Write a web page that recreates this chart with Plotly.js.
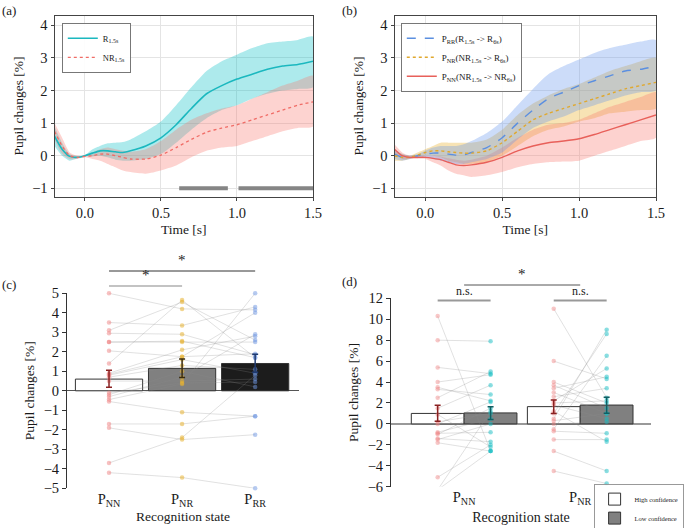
<!DOCTYPE html>
<html><head><meta charset="utf-8">
<script src="https://cdn.plot.ly/plotly-3.0.1.min.js"></script>
<style>html,body{margin:0;padding:0;background:#fff}#chart{width:685px;height:528px}</style>
</head><body><div id="chart"></div>
<script>
// ---------- Panel (a)/(b) time axis ----------
const t = [-0.2,-0.15,-0.1,-0.05,0,0.05,0.1,0.15,0.2,0.25,0.3,0.4,0.5,0.6,0.7,0.8,0.9,1.0,1.1,1.2,1.3,1.4,1.5];
// Panel (a)
const rMean  = [0.6,0.2,-0.02,-0.05,0.0,0.08,0.15,0.15,0.12,0.1,0.15,0.3,0.55,0.95,1.45,1.9,2.15,2.35,2.5,2.65,2.75,2.8,2.9];
const rHi    = [0.9,0.4,0.05,-0.02,0.02,0.2,0.3,0.38,0.4,0.42,0.5,0.75,1.05,1.55,2.1,2.6,2.9,3.1,3.3,3.45,3.5,3.55,3.65];
const rLo    = [0.3,0.0,-0.15,-0.08,-0.02,-0.02,0.0,-0.05,-0.12,-0.15,-0.15,-0.1,0.05,0.4,0.8,1.15,1.4,1.55,1.75,1.9,2.0,2.05,2.1];
const nrMean = [0.75,0.3,0.0,-0.05,-0.02,0.0,0.05,0.05,0.0,-0.05,-0.1,-0.1,0.02,0.25,0.5,0.72,0.85,0.95,1.1,1.25,1.4,1.55,1.65];
const nrHi   = [1.0,0.55,0.1,0.0,0.0,0.1,0.2,0.25,0.2,0.15,0.12,0.2,0.45,0.8,1.1,1.3,1.45,1.55,1.75,1.95,2.15,2.3,2.45];
const nrLo   = [0.5,0.05,-0.1,-0.1,-0.05,-0.1,-0.15,-0.25,-0.35,-0.45,-0.5,-0.55,-0.45,-0.3,-0.05,0.15,0.25,0.3,0.45,0.6,0.75,0.85,0.9];
const sigStart = [0.62, 1.01];
const sigEnd   = [0.94, 1.5];
const sigLevel = -1;
// Panel (b)
const rrMean = [0.05,-0.05,-0.05,0.0,0.05,0.08,0.08,0.05,0.02,0.03,0.1,0.25,0.55,1.0,1.4,1.75,1.95,2.15,2.3,2.45,2.6,2.65,2.75];
const rrHi   = [0.2,0.05,0.0,0.05,0.15,0.25,0.3,0.3,0.3,0.35,0.45,0.7,1.05,1.55,2.05,2.5,2.75,2.95,3.15,3.3,3.4,3.5,3.55];
const rrLo   = [-0.1,-0.15,-0.1,-0.05,-0.05,-0.1,-0.15,-0.2,-0.25,-0.25,-0.2,-0.1,0.1,0.5,0.85,1.05,1.2,1.4,1.55,1.7,1.85,1.95,2.0];
const pnrMean= [0.0,-0.05,-0.05,0.02,0.1,0.15,0.15,0.12,0.1,0.08,0.08,0.15,0.4,0.75,1.1,1.3,1.45,1.6,1.75,1.9,2.05,2.15,2.25];
const pnrHi  = [0.15,0.05,0.0,0.1,0.2,0.3,0.4,0.4,0.4,0.4,0.4,0.5,0.8,1.25,1.6,1.85,2.05,2.2,2.4,2.6,2.75,2.9,3.0];
const pnrLo  = [-0.15,-0.15,-0.1,-0.05,0.0,0.0,-0.05,-0.15,-0.2,-0.25,-0.25,-0.2,0.0,0.3,0.6,0.8,0.9,1.05,1.15,1.3,1.35,1.4,1.45];
const pnnMean= [0.2,0.0,-0.05,-0.05,-0.05,-0.08,-0.12,-0.2,-0.28,-0.3,-0.28,-0.2,-0.05,0.15,0.3,0.4,0.45,0.52,0.65,0.8,0.95,1.1,1.25];
const pnnHi  = [0.35,0.1,0.0,0.0,0.0,0.0,-0.02,-0.08,-0.12,-0.15,-0.12,0.0,0.25,0.55,0.8,0.95,1.0,1.1,1.3,1.5,1.65,1.8,1.95];
const pnnLo  = [0.05,-0.1,-0.1,-0.1,-0.1,-0.2,-0.3,-0.45,-0.55,-0.6,-0.65,-0.6,-0.5,-0.35,-0.25,-0.2,-0.18,-0.15,0.0,0.15,0.3,0.45,0.55];

// ---------- Panel (c) ----------
const cCats   = ['P<sub>NN</sub>','P<sub>NR</sub>','P<sub>RR</sub>'];
const cMean   = [0.6, 1.15, 1.4];
const cErrLo  = [0.18, 0.68, 0.95];
const cErrHi  = [1.05, 1.63, 1.87];
const subjNN  = [5.0,3.5,3.1,2.95,2.5,2.5,2.05,1.4,0.9,0.8,0.7,0.5,-0.1,-0.2,-0.3,-0.45,-0.55,-1.7,-1.9,-3.7,-4.2,0.85];
const subjNR  = [4.2,3.35,4.55,2.9,2.55,2.5,1.75,4.65,2.1,1.6,1.3,0.5,0.4,1.0,0.7,0.35,-1.1,-1.7,-2.5,-2.4,-4.45,1.75];
const subjRR  = [4.15,4.3,2.6,1.85,1.7,2.5,4.0,1.7,2.8,0.9,1.1,0.6,0.45,0.2,2.9,5.0,-1.3,-1.3,-2.25,0.8,-5.0,1.9];

// ---------- Panel (d) ----------
const dCats    = ['P<sub>NN</sub>','P<sub>NR</sub>'];
const dHighMean= [1.0, 1.65];
const dHighLo  = [0.25, 1.0];
const dHighHi  = [1.78, 2.28];
const dLowMean = [1.05, 1.8];
const dLowLo   = [0.42, 1.02];
const dLowHi   = [1.65, 2.55];
const nnHigh = [10.3,8.0,5.4,4.0,3.5,3.3,2.5,1.5,0.9,0.2,0.0,-0.8,-0.9,-1.0,-1.4,-1.5,-1.8,-5.1,-6.3,-6.3];
const nnLow  = [-2.6,7.9,4.8,4.7,2.2,2.8,5.0,3.7,-2.2,1.0,2.1,0.5,-0.8,1.5,-1.7,0.0,-2.6,-2.0,1.2,-2.6];
const nrHigh = [11.0,6.0,4.0,3.7,3.4,3.0,2.6,2.2,1.8,1.0,0.5,0.0,-0.5,-0.7,-1.5,-2.6,-4.5,1.2,0.3,2.0];
const nrLow  = [2.5,4.3,2.0,1.5,4.5,1.0,3.4,5.3,0.5,8.6,9.0,0.2,6.5,-0.9,-1.5,-4.5,-5.7,-1.7,1.0,2.2];

// ---------- styling ----------
const SERIF = 'Liberation Serif, Tinos, Noto Serif, Nimbus Roman, FreeSerif, Times, DejaVu Serif, serif';
const INK = '#1a1a1a';
const C_CYAN='#1bb8bf', C_SALMON='#f06c66', C_BLUE='#5b8fe0', C_YEL='#e0a82e', C_RED='#e8605a';
const traces = [];
function band(lo, hi, color, xa, ya){
  return {x: t.concat(t.slice().reverse()), y: hi.concat(lo.slice().reverse()),
    type:'scatter', mode:'lines', fill:'toself', fillcolor:color,
    line:{width:0, shape:'spline', smoothing:0.6}, hoverinfo:'skip', showlegend:false, xaxis:xa, yaxis:ya};
}
function line(y, color, dash, name, xa, ya, leg, w){
  return {x:t, y:y, type:'scatter', mode:'lines', name:name,
    line:{color:color, width:w||1.5, dash:dash, shape:'spline', smoothing:0.6},
    xaxis:xa, yaxis:ya, legend:leg, showlegend:true};
}
// (a)
traces.push(band(rLo, rHi, 'rgba(0,191,196,0.32)', 'x','y'));
traces.push(band(nrLo, nrHi, 'rgba(248,118,109,0.32)', 'x','y'));
for (let i=0;i<sigStart.length;i++){
  traces.push({x:[sigStart[i],sigEnd[i]], y:[sigLevel,sigLevel], type:'scatter', mode:'lines',
    line:{color:'#858585', width:4}, showlegend:false, xaxis:'x', yaxis:'y', hoverinfo:'skip'});
}
traces.push(line(rMean, C_CYAN, 'solid', 'R<sub>1.5s</sub>', 'x','y','legend',1.6));
traces.push(line(nrMean, C_SALMON, 'dot', 'NR<sub>1.5s</sub>', 'x','y','legend',1.3));
// (b)  yellow first, then pink, then blue on top
traces.push(band(pnrLo, pnrHi, 'rgba(232,176,40,0.35)', 'x2','y2'));
traces.push(band(pnnLo, pnnHi, 'rgba(248,118,109,0.33)', 'x2','y2'));
traces.push(band(rrLo, rrHi, 'rgba(100,149,237,0.33)', 'x2','y2'));
traces.push(line(rrMean, C_BLUE, 'dash', 'P<sub>RR</sub>(R<sub>1.5s</sub> -> R<sub>6s</sub>)', 'x2','y2','legend2',1.4));
traces.push(line(pnrMean, C_YEL, 'dot', 'P<sub>NR</sub>(NR<sub>1.5s</sub> -> R<sub>6s</sub>)', 'x2','y2','legend2',1.4));
traces.push(line(pnnMean, C_RED, 'solid', 'P<sub>NN</sub>(NR<sub>1.5s</sub> -> NR<sub>6s</sub>)', 'x2','y2','legend2',1.4));

// (c)
const cIdx = cCats.map((_,i)=>i);
traces.push({type:'bar', x:cIdx, y:cMean, width:0.92,
  marker:{color:['#ffffff','#808080','#1c1c1c'], line:{color:'#333', width:1}},
  xaxis:'x3', yaxis:'y3', showlegend:false, hoverinfo:'skip'});
for (let i=0;i<subjNN.length;i++){
  traces.push({x:cIdx, y:[subjNN[i],subjNR[i],subjRR[i]], type:'scatter', mode:'lines',
    line:{color:'rgba(140,140,140,0.33)', width:0.8}, xaxis:'x3', yaxis:'y3', showlegend:false, hoverinfo:'skip'});
}
const cCols = ['rgba(240,130,130,0.5)','rgba(232,178,50,0.55)','rgba(110,150,225,0.5)'];
[subjNN, subjNR, subjRR].forEach((arr, k)=>{
  traces.push({x:arr.map(()=>cIdx[k]), y:arr, type:'scatter', mode:'markers',
    marker:{color:cCols[k], size:4.5}, xaxis:'x3', yaxis:'y3', showlegend:false, cliponaxis:false, hoverinfo:'skip'});
});
const cErrCols = ['#8a2222','#3a2c10','#1f3a70'];
cIdx.forEach(k=>{
  traces.push({x:[cIdx[k]], y:[cMean[k]], type:'scatter', mode:'markers', marker:{size:0.1, color:cErrCols[k]},
    error_y:{type:'data', symmetric:false, array:[cErrHi[k]-cMean[k]], arrayminus:[cMean[k]-cErrLo[k]],
      color:cErrCols[k], thickness:1.5, width:3},
    xaxis:'x3', yaxis:'y3', showlegend:false, hoverinfo:'skip'});
});

// (d)
const dIdx = dCats.map((_,i)=>i);
const OFF = 0.228;
traces.push({type:'bar', x:dIdx, y:dHighMean, width:0.455, offset:-0.455, name:'High confidence',
  marker:{color:'#ffffff', line:{color:'#333', width:1}}, xaxis:'x4', yaxis:'y4', legend:'legend3', showlegend:true, hoverinfo:'skip'});
traces.push({type:'bar', x:dIdx, y:dLowMean, width:0.455, offset:0, name:'Low confidence',
  marker:{color:'#808080', line:{color:'#333', width:1}}, xaxis:'x4', yaxis:'y4', legend:'legend3', showlegend:true, hoverinfo:'skip'});
const groups = [[nnHigh, nnLow],[nrHigh, nrLow]];
groups.forEach((g, gi)=>{
  for (let i=0;i<g[0].length;i++){
    traces.push({x:[dIdx[gi]-OFF, dIdx[gi]+OFF], y:[g[0][i], g[1][i]], type:'scatter', mode:'lines',
      line:{color:'rgba(140,140,140,0.33)', width:0.8}, xaxis:'x4', yaxis:'y4', showlegend:false, hoverinfo:'skip'});
  }
  traces.push({x:g[0].map(()=>dIdx[gi]-OFF), y:g[0], type:'scatter', mode:'markers',
    marker:{color:'rgba(240,130,130,0.45)', size:4.5}, xaxis:'x4', yaxis:'y4', showlegend:false, cliponaxis:false, hoverinfo:'skip'});
  traces.push({x:g[1].map(()=>dIdx[gi]+OFF), y:g[1], type:'scatter', mode:'markers',
    marker:{color:'rgba(20,190,195,0.5)', size:4.5}, xaxis:'x4', yaxis:'y4', showlegend:false, cliponaxis:false, hoverinfo:'skip'});
});
traces.push({x:dIdx.map(i=>i-OFF), y:dHighMean, type:'scatter', mode:'markers', marker:{size:0.1,color:'#8a2222'},
  error_y:{type:'data', symmetric:false, array:dHighHi.map((v,i)=>v-dHighMean[i]), arrayminus:dHighMean.map((v,i)=>v-dHighLo[i]),
    color:'#8a2222', thickness:1.5, width:3}, xaxis:'x4', yaxis:'y4', showlegend:false, hoverinfo:'skip'});
traces.push({x:dIdx.map(i=>i+OFF), y:dLowMean, type:'scatter', mode:'markers', marker:{size:0.1,color:'#125e62'},
  error_y:{type:'data', symmetric:false, array:dLowHi.map((v,i)=>v-dLowMean[i]), arrayminus:dLowMean.map((v,i)=>v-dLowLo[i]),
    color:'#125e62', thickness:1.5, width:3}, xaxis:'x4', yaxis:'y4', showlegend:false, hoverinfo:'skip'});

// ---------- layout ----------
const W=685, H=528;
const px = v=>v/W, py = v=>1-v/H;
const tickFont = {family:SERIF, size:14.5, color:INK};
const titleFont = {family:SERIF, size:13.5, color:INK};
function timeX(d0,d1, anchor){
  return {domain:[px(d0),px(d1)], range:[-0.2,1.5], tickvals:[0,0.5,1.0,1.5], tickformat:'.1f',
    showline:true, mirror:true, linecolor:'#444', linewidth:1, showgrid:true, gridcolor:'#e4e4e4',
    ticks:'outside', ticklen:3, tickcolor:'#444', zeroline:false, tickfont:tickFont,
    title:{text:'Time [s]', font:titleFont, standoff:4}, anchor:anchor, automargin:false};
}
function pupilY(anchor){
  return {domain:[py(196.5),py(15.5)], range:[-1.25,4.3], tickvals:[-1,0,1,2,3,4],
    showline:true, mirror:true, linecolor:'#444', linewidth:1, showgrid:true, gridcolor:'#e4e4e4',
    ticks:'outside', ticklen:3, tickcolor:'#444', zeroline:false, tickfont:tickFont,
    title:{text:'Pupil changes [%]', font:titleFont, standoff:5}, anchor:anchor, automargin:false};
}
const legendBase = {font:{family:SERIF, size:8.5, color:INK}, bgcolor:'rgba(255,255,255,0.9)',
  bordercolor:'#555', borderwidth:0.8, xanchor:'left', yanchor:'top', tracegroupgap:0};
const ann = (text, xref, x, y, size, extra)=>Object.assign({text:text, xref:xref, yref:'paper', x:x, y:y,
  showarrow:false, font:{family:SERIF, size:size, color:INK}}, extra||{});
const layout = {
  width:W, height:H, margin:{l:0,r:0,t:0,b:0, autoexpand:false}, paper_bgcolor:'#fff', plot_bgcolor:'#fff',
  font:{family:SERIF, color:INK}, barmode:'overlay',
  xaxis: timeX(54.5, 313, 'y'),
  yaxis: pupilY('x'),
  xaxis2: timeX(394.5, 656, 'y2'),
  yaxis2: pupilY('x2'),
  xaxis3: {domain:[px(67),px(299)], range:[-0.575,2.6], tickvals:cIdx, ticktext:cCats, showline:false,
    ticks:'', showgrid:false, zeroline:false, tickfont:tickFont, anchor:'y3', automargin:false,
    title:{text:'Recognition state', font:titleFont, standoff:2}},
  yaxis3: {domain:[py(488.3),py(293.3)], range:[-5,5], dtick:1, showline:true, linecolor:'#333', linewidth:1,
    ticks:'outside', ticklen:4, tickcolor:'#333', showgrid:false, zeroline:true, zerolinecolor:'#555', zerolinewidth:1,
    tickfont:tickFont, anchor:'x3', automargin:false, title:{text:'Pupil changes [%]', font:titleFont, standoff:5}},
  xaxis4: {domain:[px(391),px(651)], range:[-0.63,1.61], tickvals:dIdx, ticktext:dCats, showline:false,
    ticks:'', showgrid:false, zeroline:false, tickfont:tickFont, anchor:'y4', automargin:false,
    title:{text:'Recognition state', font:{family:SERIF, size:14, color:INK}, standoff:5}},
  yaxis4: {domain:[py(486.7),py(298.3)], range:[-6,12], dtick:2, showline:true, linecolor:'#333', linewidth:1,
    ticks:'outside', ticklen:4, tickcolor:'#333', showgrid:false, zeroline:true, zerolinecolor:'#999', zerolinewidth:1.5,
    tickfont:tickFont, anchor:'x4', automargin:false, title:{text:'Pupil changes [%]', font:titleFont, standoff:5}},
  legend: Object.assign({}, legendBase, {x:px(62), y:py(23), itemwidth:30}),
  legend2: Object.assign({}, legendBase, {x:px(401), y:py(23), itemwidth:30, font:{family:SERIF, size:9, color:INK}}),
  legend3: Object.assign({}, legendBase, {x:px(684), xanchor:'right', y:py(484), itemwidth:30, borderwidth:0.6,
    font:{family:SERIF, size:6.5, color:INK}}),
  shapes: [
    {type:'line', xref:'x3', yref:'paper', x0:0, x1:2, y0:py(271), y1:py(271), line:{color:'#333', width:1}},
    {type:'line', xref:'x3', yref:'paper', x0:0, x1:1, y0:py(286), y1:py(286), line:{color:'#888', width:1.2}},
    {type:'line', xref:'x4', yref:'paper', x0:0, x1:1, y0:py(285), y1:py(285), line:{color:'#555', width:1}},
    {type:'line', xref:'x4', yref:'paper', x0:-OFF, x1:OFF, y0:py(300.5), y1:py(300.5), line:{color:'#999', width:2}},
    {type:'line', xref:'x4', yref:'paper', x0:1-OFF, x1:1+OFF, y0:py(300.5), y1:py(300.5), line:{color:'#999', width:2}}
  ],
  annotations: [
    ann('(a)', 'paper', 0, py(1), 13, {xanchor:'left', yanchor:'top'}),
    ann('(b)', 'paper', px(340), py(1), 13, {xanchor:'left', yanchor:'top'}),
    ann('(c)', 'paper', 0, py(275), 13, {xanchor:'left', yanchor:'top'}),
    ann('(d)', 'paper', px(340), py(272), 13, {xanchor:'left', yanchor:'top'}),
    ann('*', 'x3', 1, py(270), 15, {yanchor:'bottom'}),
    ann('*', 'x3', 0.5, py(285), 15, {yanchor:'bottom'}),
    ann('*', 'x4', 0.5, py(284), 15, {yanchor:'bottom'}),
    ann('n.s.', 'x4', 0, py(300), 12, {yanchor:'bottom'}),
    ann('n.s.', 'x4', 1, py(300), 12, {yanchor:'bottom'})
  ]
};
Plotly.newPlot('chart', traces, layout, {displayModeBar:false, staticPlot:true});
</script></body></html>
